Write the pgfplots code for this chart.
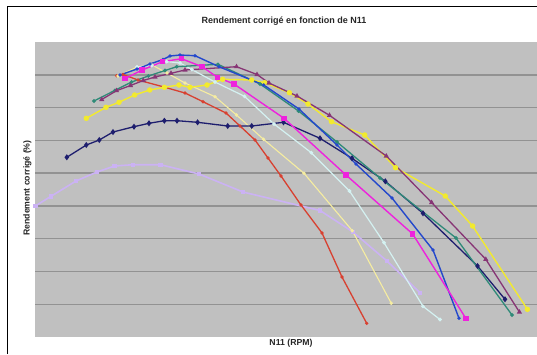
\documentclass[border=0pt]{standalone}
\usepackage{pgfplots}
\pgfplotsset{compat=1.18}
\usepackage{fontspec}
\setmainfont{Liberation Sans}
\definecolor{bg}{HTML}{C0C0C0}
\definecolor{gridc}{HTML}{929292}
\definecolor{sred}{HTML}{D84030}
\definecolor{syel}{HTML}{F2EA2E}
\definecolor{slav}{HTML}{CBB2F4}
\definecolor{snavy}{HTML}{1E1E6E}
\definecolor{smag}{HTML}{EE22DD}
\definecolor{scyan}{HTML}{D4F2F2}
\definecolor{spale}{HTML}{F6EDA0}
\definecolor{steal}{HTML}{2F8A78}
\definecolor{spurp}{HTML}{873575}
\definecolor{sblue}{HTML}{2448CC}
\begin{document}
\begin{tikzpicture}[x=1pt,y=1pt]
\useasboundingbox (0,0) rectangle (537,354);
\fill[white] (0,0) rectangle (537,354);
\draw[black,line width=1pt] (7,0) -- (7,347.5) -- (537,347.5);
\begin{axis}[at={(35pt,17pt)}, anchor=south west, width=502pt, height=295pt, scale only axis,
  xmin=35, xmax=537, ymin=42, ymax=337, y dir=reverse,
  axis background/.style={fill=bg}, axis line style={draw=none},
  xtick=\empty, ytick={74.8,107.6,140.3,173.1,205.9,238.7,271.4,304.2}, yticklabels={},
  major tick length=0, ymajorgrids, grid style={draw=gridc, line width=1.4pt}]
% lavender
\addplot[slav, line width=1.6pt, mark=square*, mark size=1.4pt] coordinates {
(35.3,206) (50.7,196.5) (76,181) (97,172) (114.5,166) (133,164.7) (160.5,164.7) (199,174) (243,192) (320,210.5) (353,232) (387,261) (420,292.7)};
% red
\addplot[sred, line width=1.3pt, mark=*, mark size=0.9pt] coordinates {
(116.7,75.7) (123,74.5) (138,80) (164,87) (185,93) (203,101.7) (226,113) (240,126) (255,140) (268,158) (281,176) (301,205) (322,233) (342,277) (366.7,323.3)};
% pale yellow
\addplot[spale, line width=1.1pt, mark=*, mark size=1.1pt] coordinates {
(118,76) (137,67) (152,65) (167,73) (185,83) (215,96.7) (236.5,115) (263.5,139.3) (304,173.3) (352.3,230.7) (391.3,303.3)};
% cyan
\addplot[scyan, line width=1.2pt, mark=*, mark size=1.2pt] coordinates {
(137,67) (151.7,65.5) (166.7,61.5) (180,63) (191.8,69.5) (215,82) (244.5,96.3) (274,124) (311.3,152.7) (349.5,191) (384,242.7) (423,306.3) (440,319.5)};
% yellow
\addplot[syel, line width=1.4pt, mark=*, mark size=2pt] coordinates {
(86.3,118.3) (106,107.3) (119,102.3) (134.6,95) (149.7,90) (164.4,87.3) (179,85) (190,87.3) (207,85) (222.6,79.3) (251.7,80) (264.7,82.7) (289.4,92.7) (308,104) (331.5,121.7) (364.7,135) (395.5,167.7) (445.2,196) (472.6,226) (527.4,309.3)};
% navy
\addplot[snavy, line width=1.3pt, mark=diamond*, mark size=2pt] coordinates {
(66.8,157.3) (86.3,145) (99.3,140) (113,132) (134,126.7) (149,123.3) (164.4,120.7) (177,120.7) (197.6,122.3) (227.7,126) (251.7,126) (283.5,122.3) (320,138.3) (352,158.3) (385.3,181.3) (423,213.3) (477.5,266) (505,299.3)};
% teal
\addplot[steal, line width=1.3pt, mark=*, mark size=1.1pt] coordinates {
(94,101) (115,90.3) (131.7,82) (148.3,76) (165,70.5) (176.7,66.7) (218,64.3) (260,84) (298.5,111) (337,142) (380,178) (456,238) (512,315)};
% purple
\addplot[spurp, line width=1.3pt, mark=triangle*, mark size=1.7pt] coordinates {
(101.7,99.5) (116.5,90.7) (130.5,85.5) (143.3,80.5) (155,77) (171,73.3) (185,70) (236.5,66.7) (257,74.5) (269,83) (297,96) (329.5,115.3) (386.3,156) (431.6,202.5) (485.8,259.3) (519.4,312)};
% blue
\addplot[sblue, line width=1.4pt, mark=*, mark size=0.9pt] coordinates {
(120,75) (137,69) (150,64) (163,59.5) (170,56) (180,55) (195,55.7) (219,66.7) (263.7,85) (299,109) (337,145) (356,164) (392,198) (433,250) (459,318.3)};
% magenta
\addplot[smag, line width=1.4pt, mark=square*, mark size=2pt] coordinates {
(125,78.7) (142,70) (162.7,61.7) (181.5,58.7) (202,66.7) (217.5,77.3) (234,84) (284,118.3) (346,175) (412.7,234) (465.8,318.3)};
\end{axis}
\node[font=\bfseries\fontsize{9}{10}\selectfont, text=black!85] at (284,333.3) {Rendement corrigé en fonction de N11};
\node[font=\bfseries\fontsize{8.7}{10}\selectfont, text=black!85] at (291,10.7) {N11 (RPM)};
\node[rotate=90, font=\bfseries\fontsize{8.7}{10}\selectfont, text=black!85] at (27.4,166) {Rendement corrigé (\%)};
\end{tikzpicture}
\end{document}
